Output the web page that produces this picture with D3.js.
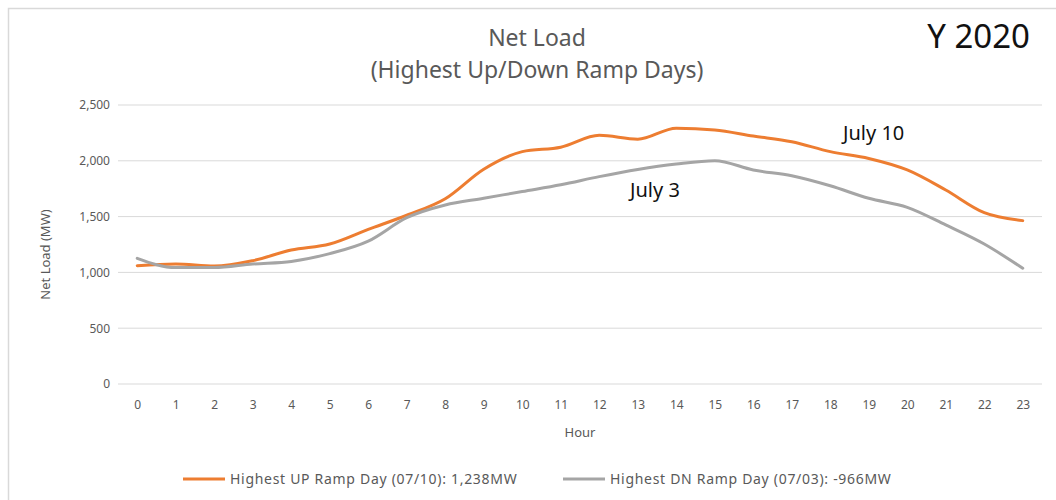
<!DOCTYPE html>
<html>
<head>
<meta charset="utf-8">
<script src="https://cdn.jsdelivr.net/npm/d3@7/dist/d3.min.js"></script>
<style>
  html, body { margin: 0; padding: 0; background: #fff; }
  svg { display: block; font-family: "Noto Sans", "Open Sans", sans-serif; }
</style>
</head>
<body>
<svg id="chart" width="1056" height="500"></svg>
<script>
// Hour-of-day categories
const hours = d3.range(0, 24);

// Net load (MW) on the highest up-ramp day, 07/10
const upRamp = [1060, 1075, 1057, 1105, 1200, 1254, 1385, 1512, 1660, 1925,
                2082, 2122, 2228, 2193, 2292, 2276, 2222, 2171, 2082, 2021,
                1918, 1738, 1535, 1464];

// Net load (MW) on the highest down-ramp day, 07/03
const downRamp = [1126, 1043, 1043, 1075, 1098, 1168, 1280, 1490, 1604, 1664,
                  1725, 1785, 1858, 1922, 1971, 2001, 1918, 1866, 1776, 1664,
                  1583, 1425, 1254, 1037];

const yTicks = [0, 500, 1000, 1500, 2000, 2500];

const seriesNames = [
  "Highest UP Ramp Day (07/10): 1,238MW",
  "Highest DN Ramp Day (07/03): -966MW"
];
const seriesColors = ["#ED7D31", "#A5A5A5"];

const svg = d3.select("#chart");

// chart frame
svg.append("rect")
  .attr("x", 8.5).attr("y", 8.5)
  .attr("width", 1060).attr("height", 500)
  .attr("fill", "none")
  .attr("stroke", "#d9d9d9")
  .attr("stroke-width", 1.5);

const plot = { left: 118, right: 1042, top: 105, bottom: 384 };

const x = d3.scalePoint()
  .domain(hours)
  .range([plot.left, plot.right])
  .padding(0.5);

const y = d3.scaleLinear()
  .domain([0, 2500])
  .range([plot.bottom, plot.top]);

// horizontal gridlines
svg.append("g")
  .selectAll("line")
  .data(yTicks)
  .join("line")
  .attr("x1", plot.left).attr("x2", plot.right)
  .attr("y1", d => y(d)).attr("y2", d => y(d))
  .attr("stroke", "#d9d9d9")
  .attr("stroke-width", 1);

// y axis labels
const yAxis = svg.append("g")
  .attr("transform", `translate(${plot.left - 8},0)`)
  .call(d3.axisLeft(y).tickValues(yTicks).tickFormat(d3.format(",")).tickSize(0).tickPadding(0));
yAxis.select(".domain").remove();
yAxis.selectAll("text")
  .attr("fill", "#595959")
  .style("font-size", "12px")
  .style("font-family", "'Noto Sans', sans-serif");

// x axis labels
const xAxis = svg.append("g")
  .attr("transform", `translate(0,${plot.bottom + 16})`)
  .call(d3.axisBottom(x).tickSize(0).tickPadding(0));
xAxis.select(".domain").remove();
xAxis.selectAll("text")
  .attr("fill", "#595959")
  .style("font-size", "12px")
  .style("font-family", "'Noto Sans', sans-serif");

// axis titles
svg.append("text")
  .attr("transform", `translate(50,${(plot.top + plot.bottom) / 2 + 10}) rotate(-90)`)
  .attr("text-anchor", "middle")
  .attr("fill", "#595959")
  .style("font-size", "13px")
  .text("Net Load (MW)");

svg.append("text")
  .attr("x", (plot.left + plot.right) / 2)
  .attr("y", 437)
  .attr("text-anchor", "middle")
  .attr("fill", "#595959")
  .style("font-size", "13px")
  .text("Hour");

// chart title
const title = svg.append("text")
  .attr("text-anchor", "middle")
  .attr("fill", "#595959")
  .style("font-size", "23px");
title.append("tspan").attr("x", 537).attr("y", 46).text("Net Load");
title.append("tspan").attr("x", 537).attr("y", 78).text("(Highest Up/Down Ramp Days)");

svg.append("text")
  .attr("x", 1030).attr("y", 48)
  .attr("text-anchor", "end")
  .attr("fill", "#111")
  .style("font-size", "33px")
  .text("Y 2020");

// series lines
const line = d3.line()
  .x((d, i) => x(hours[i]))
  .y(d => y(d))
  .curve(d3.curveMonotoneX);

[upRamp, downRamp].forEach((vals, k) => {
  svg.append("path")
    .datum(vals)
    .attr("fill", "none")
    .attr("stroke", seriesColors[k])
    .attr("stroke-width", 3)
    .attr("stroke-linejoin", "round")
    .attr("stroke-linecap", "round")
    .attr("d", line);
});

// day annotations
svg.append("text")
  .attr("x", 630).attr("y", 197)
  .attr("fill", "#111")
  .style("font-size", "20px")
  .text("July 3");

svg.append("text")
  .attr("x", 843).attr("y", 140)
  .attr("fill", "#111")
  .style("font-size", "20px")
  .text("July 10");

// legend
const legendX = [183, 563];
const legend = svg.append("g");
seriesNames.forEach((name, k) => {
  const g = legend.append("g").attr("transform", `translate(${legendX[k]},479)`);
  g.append("line")
    .attr("x1", 0).attr("x2", 42)
    .attr("stroke", seriesColors[k])
    .attr("stroke-width", 3);
  g.append("text")
    .attr("x", 47).attr("y", 5)
    .attr("fill", "#595959")
    .style("font-size", "14px")
    .style("letter-spacing", "0.7px")
    .text(name);
});
</script>
</body>
</html>
